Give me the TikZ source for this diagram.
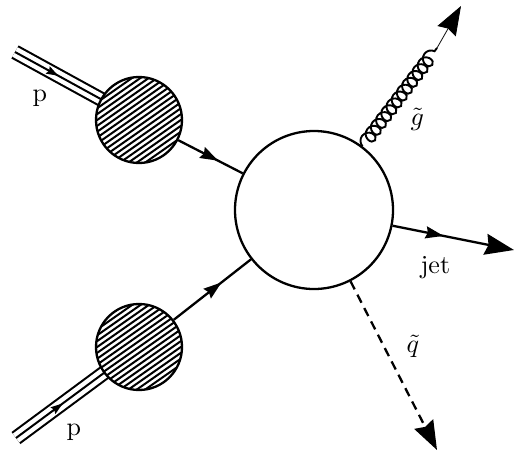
\documentclass[tikz,border=0pt]{standalone}
\usetikzlibrary{arrows.meta,decorations.pathmorphing,decorations.markings,calc}
\begin{document}
\begin{tikzpicture}[x=1pt,y=-1pt,
  blob/.style={circle, draw, line width=2.3pt, fill=white, minimum size=86pt, inner sep=0pt,
    path picture={\foreach \k in {-11,...,11}{\draw[line width=2pt] ($(path picture bounding box.center)+(125:\k*4.8pt)+(35:60pt)$) -- ($(path picture bounding box.center)+(125:\k*4.8pt)+(215:60pt)$);}}},
  hub/.style={circle, draw, line width=2.3pt, fill=white, minimum size=158pt, inner sep=0pt},
  midarrow/.style={postaction={decorate}, decoration={markings, mark=at position #1 with {\arrow{Stealth[length=18pt,width=12pt,inset=2pt]}}}},
  smallarrow/.style={postaction={decorate}, decoration={markings, mark=at position #1 with {\arrow{Stealth[length=12pt,width=8pt,inset=1.5pt]}}}},
  triple/.style={line width=2pt, preaction={draw, line width=15pt}, preaction={draw, white, line width=10.8pt}},
  bigtip/.style={-{Stealth[length=29pt,width=21pt,inset=3pt]}},
  lbl/.style={scale=2.6, inner sep=0pt, anchor=base west}
]
\fill[white] (0,0) rectangle (515,453);
\useasboundingbox (0,0) rectangle (515,453);
\coordinate (B1) at (139,120);
\coordinate (B2) at (139,347);
\coordinate (PA) at (15,52);
\coordinate (PB) at (16,438);
\coordinate (JT) at (514,250);
\coordinate (GE) at (437,48);
\coordinate (GT) at (461,6);
\coordinate (QT) at (437,450);
% incoming protons
\draw[triple, smallarrow=0.35] (PA) -- (B1);
\draw[triple, smallarrow=0.38] (PB) -- (B2);
\node[blob] (b1) at (B1) {};
\node[blob] (b2) at (B2) {};
\node[hub] (c) at (314,210) {};
% partons
\draw[line width=2.3pt, midarrow=0.62] (b1) -- (c);
\draw[line width=2.3pt, midarrow=0.62] (b2) -- (c);
% gluino
\draw[line width=1.9pt, decorate, decoration={coil, aspect=0.9, amplitude=6.5pt, segment length=8.6pt}] (c) -- (GE);
\draw[line width=0.8pt, bigtip] (GE) -- (GT);
% jet
\draw[line width=2.3pt, bigtip, midarrow=0.42] (c) -- (JT);
% squark
\draw[line width=2.3pt, dash pattern=on 9pt off 6pt, bigtip] (c) -- (QT);
% labels
\node[lbl] (lp1) at (32,101) {p};
\node[lbl] (lp2) at (66,435) {p};
\node[lbl] (lg) at (410,125) {$\tilde g$};
\node[lbl] (lj) at (420,273) {jet};
\node[lbl] (lq) at (406,352) {$\tilde q$};
\end{tikzpicture}
\end{document}
